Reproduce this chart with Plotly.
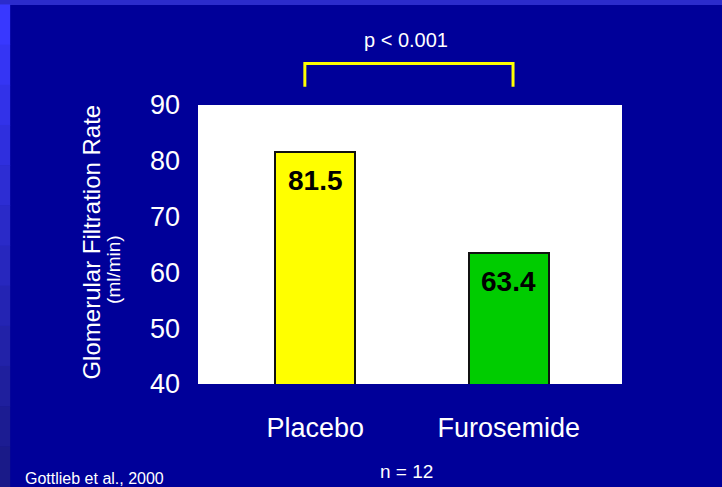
import plotly.graph_objects as go

categories = ["Placebo", "Furosemide"]
gfr_values = [81.5, 63.4]
value_labels = ["81.5", "63.4"]
bar_colors = ["#FFFF00", "#00CC00"]
y_ticks = [40, 50, 60, 70, 80, 90]

x_pos = list(range(len(categories)))
FONT = "Liberation Sans, Arial, sans-serif"
BG = "#000099"

fig = go.Figure()
fig.add_trace(go.Bar(
    x=x_pos, y=gfr_values, width=0.415,
    marker=dict(color=bar_colors, line=dict(color="#111111", width=2)),
    showlegend=False, hoverinfo="skip",
))

for xi, v, t in zip(x_pos, gfr_values, value_labels):
    fig.add_annotation(x=xi, y=v, xref="x", yref="y", text="<b>%s</b>" % t,
                       showarrow=False, yanchor="top", yshift=-11,
                       font=dict(family=FONT, size=28, color="black"))

# decorative slide edges
fig.add_shape(type="rect", xref="paper", yref="paper", x0=-0.47, x1=1.24,
              y0=1.358, y1=1.38, fillcolor="#2b2bcc", line_width=0, layer="below")
n_seg = 12
top_px, bot_px = 5, 487
for i in range(n_seg):
    p0 = top_px + (bot_px - top_px) * i / n_seg
    p1 = top_px + (bot_px - top_px) * (i + 1) / n_seg
    f = i / (n_seg - 1)
    r = int(0x38 + (0x1a - 0x38) * f)
    b = int(0xff + (0x88 - 0xff) * f)
    fig.add_shape(type="rect", xref="paper", yref="paper",
                  x0=-0.47, x1=-0.443,
                  y0=(384 - p1) / 279, y1=(384 - p0) / 279 + 0.002,
                  fillcolor="rgb(%d,%d,%d)" % (r, r, b), line_width=0, layer="below")

# significance bracket
bx0, bx1, by_top, by_bot = 0.252, 0.743, 1.149, 1.065
fig.add_shape(type="path", xref="paper", yref="paper",
              path="M %f %f L %f %f L %f %f L %f %f" % (bx0, by_bot, bx0, by_top, bx1, by_top, bx1, by_bot),
              line=dict(color="#FFFF00", width=3))

fig.add_annotation(xref="paper", yref="paper", x=0.491, y=1.233, text="p < 0.001",
                   showarrow=False, xanchor="center", yanchor="middle",
                   font=dict(family=FONT, size=20, color="white"))
fig.add_annotation(xref="paper", yref="paper", x=0.492, y=-0.312, text="n = 12",
                   showarrow=False, xanchor="center", yanchor="middle",
                   font=dict(family=FONT, size=19, color="white"))
fig.add_annotation(xref="paper", yref="paper", x=-0.413, y=-0.337, text="Gottlieb et al., 2000",
                   showarrow=False, xanchor="left", yanchor="middle",
                   font=dict(family=FONT, size=16, color="white"))
fig.add_annotation(xref="paper", yref="paper", x=-0.25, y=0.507, text="Glomerular Filtration Rate",
                   showarrow=False, xanchor="center", yanchor="middle", textangle=-90,
                   font=dict(family=FONT, size=24, color="white"))
fig.add_annotation(xref="paper", yref="paper", x=-0.198, y=0.409, text="(ml/min)",
                   showarrow=False, xanchor="center", yanchor="middle", textangle=-90,
                   font=dict(family=FONT, size=19, color="white"))

fig.update_layout(
    width=722, height=487,
    margin=dict(l=198, r=100, t=105, b=103),
    paper_bgcolor=BG, plot_bgcolor="white",
    font=dict(family=FONT, color="white"),
    xaxis=dict(range=[-0.606, 1.585], tickvals=x_pos, ticktext=categories,
               showgrid=False, zeroline=False, showline=False, ticks="",
               tickfont=dict(family=FONT, size=27, color="white"),
               ticklabelstandoff=25, fixedrange=True),
    yaxis=dict(range=[40, 90], tickvals=y_ticks, showgrid=False, zeroline=False,
               showline=False, ticks="", tickfont=dict(family=FONT, size=27, color="white"),
               ticklabelstandoff=17, fixedrange=True),
    bargap=0,
)

fig.write_html("out.html", config={"displayModeBar": False},
               post_script="document.body.style.margin='0';document.body.style.background='%s';" % BG)
